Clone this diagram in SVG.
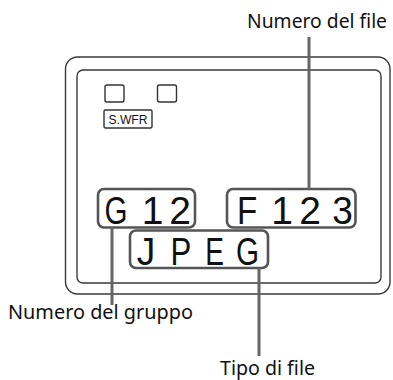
<svg xmlns="http://www.w3.org/2000/svg" width="393" height="380" viewBox="0 0 393 380">
<style>
.frame{fill:none;stroke:#3a3a3a;stroke-width:1.4}
.key{fill:none;stroke:#333;stroke-width:1.4}
.lcd{fill:none;stroke:#555;stroke-width:2.6}
.lead{fill:none;stroke:#666;stroke-width:3}
.lbl{font-family:"Noto Sans","Open Sans",sans-serif;font-size:20px;fill:#111}
.seg{font-family:"Liberation Sans",Arial,sans-serif;font-size:39px;fill:#111;text-anchor:middle}
.small{font-family:"Liberation Sans",Arial,sans-serif;font-size:12.5px;fill:#111}
</style>
<rect width="393" height="380" fill="#fff"/>
<g id="display">
<rect class="frame" x="65.5" y="57" width="324.5" height="237" rx="12"/>
<rect class="frame" x="77" y="70" width="304" height="213" rx="6"/>
<rect class="key" x="105" y="85" width="19" height="17" rx="2"/>
<rect class="key" x="157.5" y="85" width="19" height="17" rx="2"/>
<rect class="key" x="104" y="110" width="48" height="18" rx="1.5"/>
<text class="small" x="128" y="124" text-anchor="middle" textLength="39" lengthAdjust="spacingAndGlyphs">S.WFR</text>
</g>
<g id="group-number">
<rect class="lcd" x="98" y="189" width="97" height="38.5" rx="6"/>
<text class="seg" transform="translate(116,224) scale(0.76,1)">G</text>
<text class="seg" transform="translate(152.5,224) scale(1,1)">1</text>
<text class="seg" transform="translate(180,224) scale(1,1)">2</text>
</g>
<g id="file-number">
<rect class="lcd" x="227" y="189" width="128.5" height="38.5" rx="6"/>
<text class="seg" transform="translate(247,224) scale(0.85,1)">F</text>
<text class="seg" transform="translate(282,224) scale(1,1)">1</text>
<text class="seg" transform="translate(310,224) scale(1,1)">2</text>
<text class="seg" transform="translate(342.5,224) scale(0.95,1)">3</text>
</g>
<g id="file-type">
<rect class="lcd" x="130" y="230.5" width="138" height="37.5" rx="6"/>
<text class="seg" transform="translate(146,264.5) scale(0.95,1)">J</text>
<text class="seg" transform="translate(181,264.5) scale(0.8,1)">P</text>
<text class="seg" transform="translate(214.5,264.5) scale(0.72,1)">E</text>
<text class="seg" transform="translate(247.5,264.5) scale(0.76,1)">G</text>
</g>
<g id="connectors">
<line class="lead" x1="309" y1="37" x2="309" y2="189"/>
<line class="lead" x1="112" y1="227.5" x2="112" y2="305"/>
<line class="lead" x1="259" y1="268" x2="259" y2="356"/>
</g>
<g id="labels">
<text class="lbl" x="247" y="28" textLength="140" lengthAdjust="spacingAndGlyphs">Numero del file</text>
<text class="lbl" x="8" y="319" textLength="185" lengthAdjust="spacingAndGlyphs">Numero del gruppo</text>
<text class="lbl" x="220" y="375" textLength="95" lengthAdjust="spacingAndGlyphs">Tipo di file</text>
</g>
</svg>
